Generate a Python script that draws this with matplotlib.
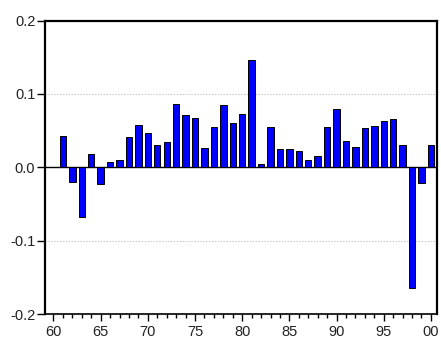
import numpy as np
import matplotlib.pyplot as plt

plt.rcParams['font.family'] = ['Liberation Sans', 'DejaVu Sans']

# annual values 1961-2000
years = list(range(61, 101))
values = [0.043, -0.020, -0.068, 0.018, -0.023, 0.007, 0.010, 0.042, 0.058, 0.047,
          0.031, 0.034, 0.086, 0.071, 0.067, 0.026, 0.055, 0.085, 0.060, 0.073,
          0.146, 0.0045, 0.055, 0.025, 0.025, 0.022, 0.010, 0.015, 0.055, 0.079,
          0.036, 0.028, 0.054, 0.057, 0.063, 0.066, 0.030, -0.164, -0.022, 0.031]
xtick_pos = [60, 65, 70, 75, 80, 85, 90, 95, 100]
xtick_labels = ['60', '65', '70', '75', '80', '85', '90', '95', '00']
ytick_pos = [-0.2, -0.1, 0.0, 0.1, 0.2]
ytick_labels = ['-0.2', '-0.1', '0.0', '0.1', '0.2']

fig = plt.figure(figsize=(4.41, 3.38), dpi=100)
ax = fig.add_axes([0.102, 0.071, 0.888, 0.868])

ax.bar(years, values, width=0.68, color='#0000ff', edgecolor='black', linewidth=0.7, zorder=3)

ax.axhline(0, color='black', linewidth=1.0, zorder=2)
for g in [-0.1, 0.1]:
    ax.axhline(g, color='#c4c4c4', linewidth=0.7, linestyle=(0, (1.5, 1.5)), zorder=1)

ax.set_xlim(59.1, 100.6)
ax.set_ylim(-0.2, 0.2)

ax.set_xticks(xtick_pos)
ax.set_xticklabels(xtick_labels)
ax.set_xticks(years + [60], minor=True)
ax.set_yticks(ytick_pos)
ax.set_yticklabels(ytick_labels)

ax.tick_params(axis='x', which='major', direction='out', length=5, width=1, pad=3,
               labelsize=10.5, colors='black', labelcolor='#222222')
ax.tick_params(axis='x', which='minor', direction='out', length=3, width=1)
ax.tick_params(axis='y', which='major', direction='out', length=6, width=1, pad=1,
               labelsize=10.5, colors='black', labelcolor='#222222')

for side in ['top', 'left', 'right']:
    ax.spines[side].set_linewidth(1.6)
ax.spines['bottom'].set_linewidth(1.2)

fig.savefig('out.png', dpi=100)
